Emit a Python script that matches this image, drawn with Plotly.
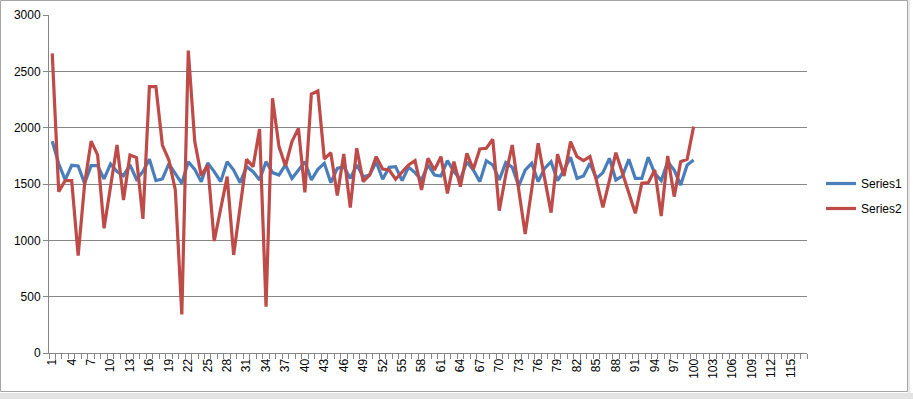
import plotly.graph_objects as go

categories = list(range(1, 101))
axis_categories = list(range(1, 118))
tick_labels = [str(v) for v in range(1, 118, 3)]

series1 = [1880, 1680, 1536, 1666, 1660, 1506, 1663, 1663, 1545, 1678,
           1610, 1574, 1669, 1542, 1610, 1719, 1530, 1545, 1678, 1595,
           1506, 1698, 1630, 1521, 1687, 1610, 1521, 1698, 1624, 1512,
           1654, 1610, 1536, 1698, 1601, 1580, 1669, 1550, 1624, 1698,
           1536, 1630, 1684, 1512, 1639, 1654, 1550, 1669, 1565, 1580,
           1698, 1542, 1648, 1654, 1530, 1648, 1601, 1536, 1669, 1580,
           1571, 1707, 1610, 1542, 1698, 1624, 1521, 1707, 1669, 1536,
           1690, 1648, 1482, 1624, 1684, 1521, 1639, 1698, 1530, 1624,
           1737, 1550, 1571, 1684, 1550, 1601, 1728, 1536, 1571, 1719,
           1550, 1550, 1737, 1595, 1530, 1698, 1624, 1491, 1669, 1713]

series2 = [2660, 1432, 1530, 1530, 865, 1500, 1880, 1758, 1107, 1480,
           1846, 1358, 1758, 1734, 1190, 2365, 2365, 1846, 1713, 1447,
           343, 2685, 1876, 1574, 1669, 994, 1280, 1565, 870, 1290,
           1719, 1654, 1988, 411, 2261, 1832, 1660, 1876, 1994, 1426,
           2299, 2326, 1722, 1778, 1397, 1767, 1290, 1817, 1521, 1580,
           1743, 1633, 1624, 1542, 1610, 1669, 1707, 1447, 1728, 1624,
           1743, 1417, 1698, 1477, 1772, 1630, 1811, 1817, 1897, 1263,
           1580, 1846, 1450, 1056, 1450, 1861, 1550, 1246, 1764, 1571,
           1876, 1743, 1707, 1743, 1530, 1293, 1530, 1778, 1600, 1420,
           1240, 1506, 1512, 1624, 1216, 1749, 1388, 1698, 1719, 2009]

series_names = ["Series1", "Series2"]
series_colors = ["#4A7EBB", "#BE4B48"]

W, H = 913, 399
L, R, T, B = 49, 106, 15, 46
PW, PH = W - L - R, H - T - B


def px(x):
    return (x - L) / PW


def py(y):
    return (H - B - y) / PH


fig = go.Figure()
for i, (name, vals) in enumerate(zip(series_names, [series1, series2])):
    fig.add_trace(go.Scatter(
        x=categories, y=vals, mode="lines", name=name,
        line=dict(color=series_colors[i], width=3.2),
        legendgroup=name,
    ))

tick_vals = [int(t) for t in tick_labels]
font = "Liberation Sans, Arial, sans-serif"

fig.update_layout(
    width=W, height=H,
    margin=dict(l=L, r=R, t=T, b=B, autoexpand=False),
    paper_bgcolor="white", plot_bgcolor="white",
    font=dict(family=font, size=12, color="#000000"),
    showlegend=True,
    legend=dict(x=px(821), y=py(196), xanchor="left", yanchor="middle",
                bgcolor="rgba(0,0,0,0)", font=dict(size=12),
                tracegroupgap=6, traceorder="grouped", itemwidth=30),
    xaxis=dict(
        range=[0.5, len(axis_categories) + 0.5],
        tickmode="array", tickvals=tick_vals, ticktext=tick_labels,
        tickangle=-90, ticks="", showgrid=False, zeroline=False,
        showline=True, linecolor="#868686", linewidth=1,
        tickfont=dict(size=12), automargin=False,
        minor=dict(tickmode="linear", tick0=0.5, dtick=1, ticks="outside",
                   ticklen=5, tickcolor="#868686", showgrid=False),
    ),
    yaxis=dict(
        range=[0, 3000], dtick=500, tick0=0,
        showgrid=True, gridcolor="#868686", gridwidth=1,
        zeroline=False, showline=True, linecolor="#868686", linewidth=1,
        ticks="outside", ticklen=5, tickcolor="#868686",
        tickfont=dict(size=12), automargin=False,
    ),
    shapes=[
        dict(type="rect", xref="paper", yref="paper",
             x0=px(0.5), x1=px(907.5), y0=py(391.5), y1=py(0.5),
             line=dict(color="#A6A6A6", width=1), fillcolor="rgba(0,0,0,0)",
             layer="below"),
        dict(type="rect", xref="paper", yref="paper",
             x0=px(0), x1=px(913), y0=py(399), y1=py(393),
             line=dict(width=0), fillcolor="#E4E4E4", layer="below"),
        dict(type="line", xref="paper", yref="paper",
             x0=px(909), x1=px(909), y0=py(393), y1=py(0),
             line=dict(color="#D0D0D0", width=1)),
    ],
)

fig.write_html(
    "out.html",
    config={"displayModeBar": False},
    post_script="document.body.style.margin='0';document.body.style.padding='0';",
)
